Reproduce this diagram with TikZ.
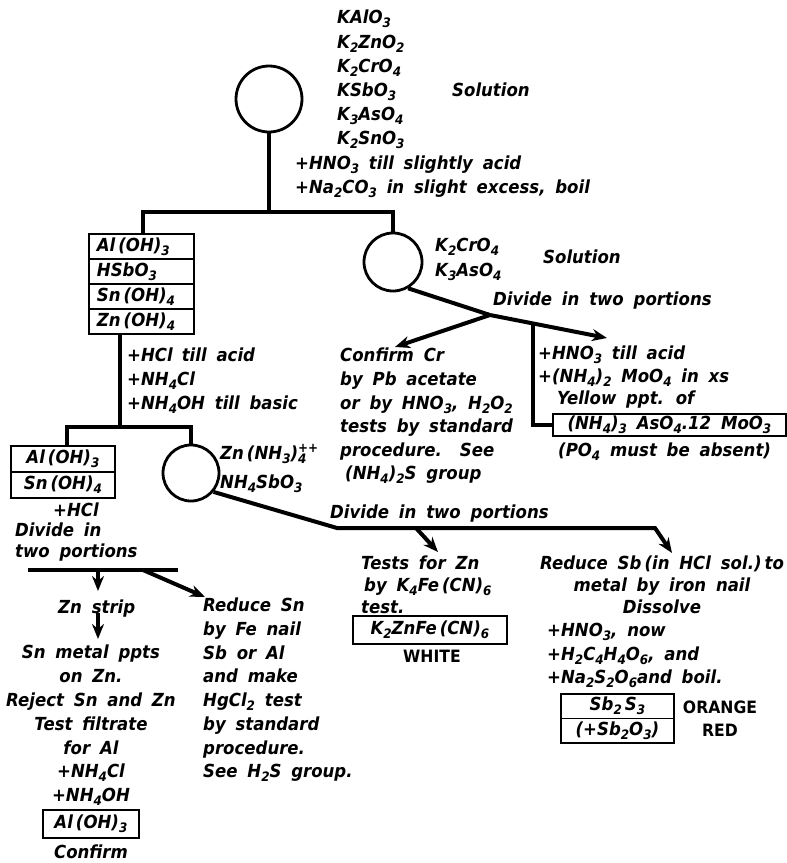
\documentclass[tikz,border=0pt]{standalone}
\usepackage{fontspec}
\setmainfont{DejaVu Sans}[ItalicFont={DejaVu Sans Oblique},BoldFont={DejaVu Sans Bold},BoldItalicFont={DejaVu Sans Bold Oblique},WordSpace=1.7,FakeStretch=0.92]
\usetikzlibrary{arrows.meta}
\newcommand\su[1]{\raisebox{-4pt}{\fontsize{13}{13}\selectfont #1}}
\newcommand\tf{\bfseries\itshape\fontsize{18}{24}\selectfont}
\newcommand\uf{\bfseries\upshape\fontsize{17}{23}\selectfont}
\begin{document}
\begin{tikzpicture}[x=1pt,y=-1pt,
  txt/.style={font=\tf, inner sep=0pt, anchor=north west, align=left},
  ctxt/.style={font=\tf, inner sep=0pt, anchor=north, align=center},
  sp/.style={font={\tf\fontsize{18}{#1}\selectfont}},
  ln/.style={line width=4pt, line join=miter},
  arr/.style={line width=4pt, line join=miter, -{Stealth[length=15pt,width=12pt]}},
  circ/.style={circle, draw, line width=2.8pt, inner sep=0pt, minimum size=#1},
  row/.style 2 args={draw, line width=1.8pt, inner sep=0pt, font=\tf, anchor=north west, minimum width=#1, minimum height=#2},
  lrow/.style={text width=89pt, align=left, inner xsep=8pt}
]
\useasboundingbox (0,0) rectangle (787,863);

% ---------- top ----------
\node[circ=66pt] (c1) at (269,99) {};
\node[txt, sp=24.2] (tA) at (337,10) {KAlO\su3\\K\su2ZnO\su2\\K\su2CrO\su4\\KSbO\su3\\K\su3AsO\su4\\K\su2SnO\su3};
\node[txt] (sol1) at (452,83) {Solution};
\node[txt] (tC) at (295,156) {+HNO\su3 till slightly acid\\+Na\su2CO\su3 in slight excess, boil};

% ---------- first precipitate box ----------
\node[row={105pt}{25pt}, lrow] (b1a) at (88,233) {Al\,(OH)\su3};
\node[row={105pt}{25pt}, lrow] (b1b) at (88,258) {HSbO\su3};
\node[row={105pt}{25pt}, lrow] (b1c) at (88,283) {Sn\,(OH)\su4};
\node[row={105pt}{25pt}, lrow] (b1d) at (88,308) {Zn\,(OH)\su4};

% ---------- second solution ----------
\node[circ=58pt] (c2) at (393,262) {};
\node[txt, sp=25] (tF) at (435,238) {K\su2CrO\su4\\K\su3AsO\su4};
\node[txt] (sol2) at (543,250) {Solution};
\node[txt] (div1) at (493,292) {Divide in two portions};

\coordinate (j1) at (269,212);
\coordinate (j1l) at (143,212);
\coordinate (j1r) at (393,212);
\draw[ln] (c1.south) -- (j1);
\draw[ln] (b1a.north -| j1l) -- (j1l) -- (j1r) -- (c2.north);

\node[txt, sp=22.5] (tI) at (538,346) {+HNO\su3 till acid\\+(NH\su4)\su2 MoO\su4 in xs};
\node[txt] (yel) at (557,391) {Yellow ppt. of};
\node[row={233pt}{22pt}] (bJ) at (552,413) {(NH\su4)\su3 AsO\su4.12 MoO\su3};
\node[txt] (tK) at (558,443) {(PO\su4 must be absent)};
\node[txt, sp=23.6] (tL) at (340,348) {Confirm Cr\\by Pb acetate\\or by HNO\su3, H\su2O\su2\\tests by standard\\procedure.\quad See\\\hspace{5pt}(NH\su4)\su2S group};

\coordinate (j2) at (490,315);
\coordinate (a2r) at (607,338);
\coordinate (a2l) at (395,347);
\coordinate (j3) at (533,323);
\draw[ln] (c2.-60) -- (j2);
\draw[arr] (j2) -- (a2r);
\draw[arr] (j2) -- (a2l);
\draw[ln] (j3) |- (bJ.west);

% ---------- second split ----------
\node[txt, sp=24] (tM) at (127,348) {+HCl\enspace till acid\\+NH\su4Cl\\+NH\su4OH till basic};
\node[row={104pt}{26pt}] (b2a) at (10,445) {Al\,(OH)\su3};
\node[row={104pt}{26pt}] (b2b) at (10,471) {Sn\,(OH)\su4};
\node[circ=56pt] (c3) at (191,473) {};
\node[txt] (tP1) at (220,444) {Zn\,(NH\su3)\rlap{\raisebox{7.5pt}{\fontsize{13}{13}\selectfont ++}}\su4};
\node[txt] (tP2) at (220,475) {NH\su4SbO\su3};

\coordinate (j4) at (120,427);
\coordinate (j4l) at (67,427);
\coordinate (j4r) at (191,427);
\draw[ln] (b1d.south -| j4) -- (j4);
\draw[ln] (b2a.north -| j4l) -- (j4l) -- (j4r) -- (c3.north);

\node[txt] (hcl2) at (53,503) {+HCl};
\node[txt, sp=21] (div2) at (15,523) {Divide in\\two portions};
\node[txt] (div3) at (330,505) {Divide in two portions};

\coordinate (j5) at (337,528);
\coordinate (j6) at (655,528);
\coordinate (a6) at (672,553);
\coordinate (j7) at (416,528);
\coordinate (a7) at (438,552);
\draw[arr] (c3.-40) -- (j5) -- (j6) -- (a6);
\draw[arr] (j7) -- (a7);

% ---------- bottom left ----------
\coordinate (j8l) at (28,570);
\coordinate (j8r) at (178,570);
\coordinate (j8a) at (98,570);
\coordinate (a8a) at (98,591);
\coordinate (j8b) at (143,570);
\coordinate (a8b) at (205,597);
\coordinate (j9) at (98,613);
\coordinate (a9) at (98,639);
\draw[ln] (j8l) -- (j8r);
\draw[arr] (j8a) -- (a8a);
\draw[arr] (j8b) -- (a8b);
\draw[arr] (j9) -- (a9);

\node[txt] (zs) at (58,600) {Zn strip};
\node[ctxt, sp=23.8] (tT) at (91,645) {Sn metal ppts\\on Zn.\\Reject Sn and Zn\\Test filtrate\\for Al\\+NH\su4Cl\\+NH\su4OH};
\node[row={96pt}{28pt}] (bT) at (42,809) {Al\,(OH)\su3};
\node[ctxt] (conf) at (91,845) {Confirm};
\node[txt, sp=23.7] (tU) at (203,598) {Reduce Sn\\by Fe nail\\Sb or Al\\and make\\HgCl\su2 test\\by standard\\procedure.\\See H\su2S group.};

% ---------- bottom middle ----------
\node[txt, sp=22] (tV) at (361,556) {Tests for Zn\\\hspace{3pt}by K\su4Fe\,(CN)\su6\\test.};
\node[row={154pt}{28pt}] (bW) at (352,615) {K\su2ZnFe\,(CN)\su6};
\node[font=\uf, inner sep=0pt, anchor=north] (white) at (432,650) {WHITE};

% ---------- bottom right ----------
\node[ctxt, sp=22] (tX) at (662,556) {Reduce Sb\,(in HCl sol.)\,to\\metal by iron nail\\Dissolve};
\node[txt, sp=23.5] (tY) at (547,623) {+HNO\su3, now\\+H\su2C\su4H\su4O\su6, and\\+Na\su2S\su2O\su6and boil.};
\node[row={113pt}{24.5pt}] (bZa) at (560,693) {Sb\su2\,S\su3};
\node[row={113pt}{24.5pt}] (bZb) at (560,717.5) {(+Sb\su2O\su3)};
\node[font=\uf, inner sep=0pt, anchor=north, align=center] (orng) at (720,701) {ORANGE\\RED};
\end{tikzpicture}
\end{document}
